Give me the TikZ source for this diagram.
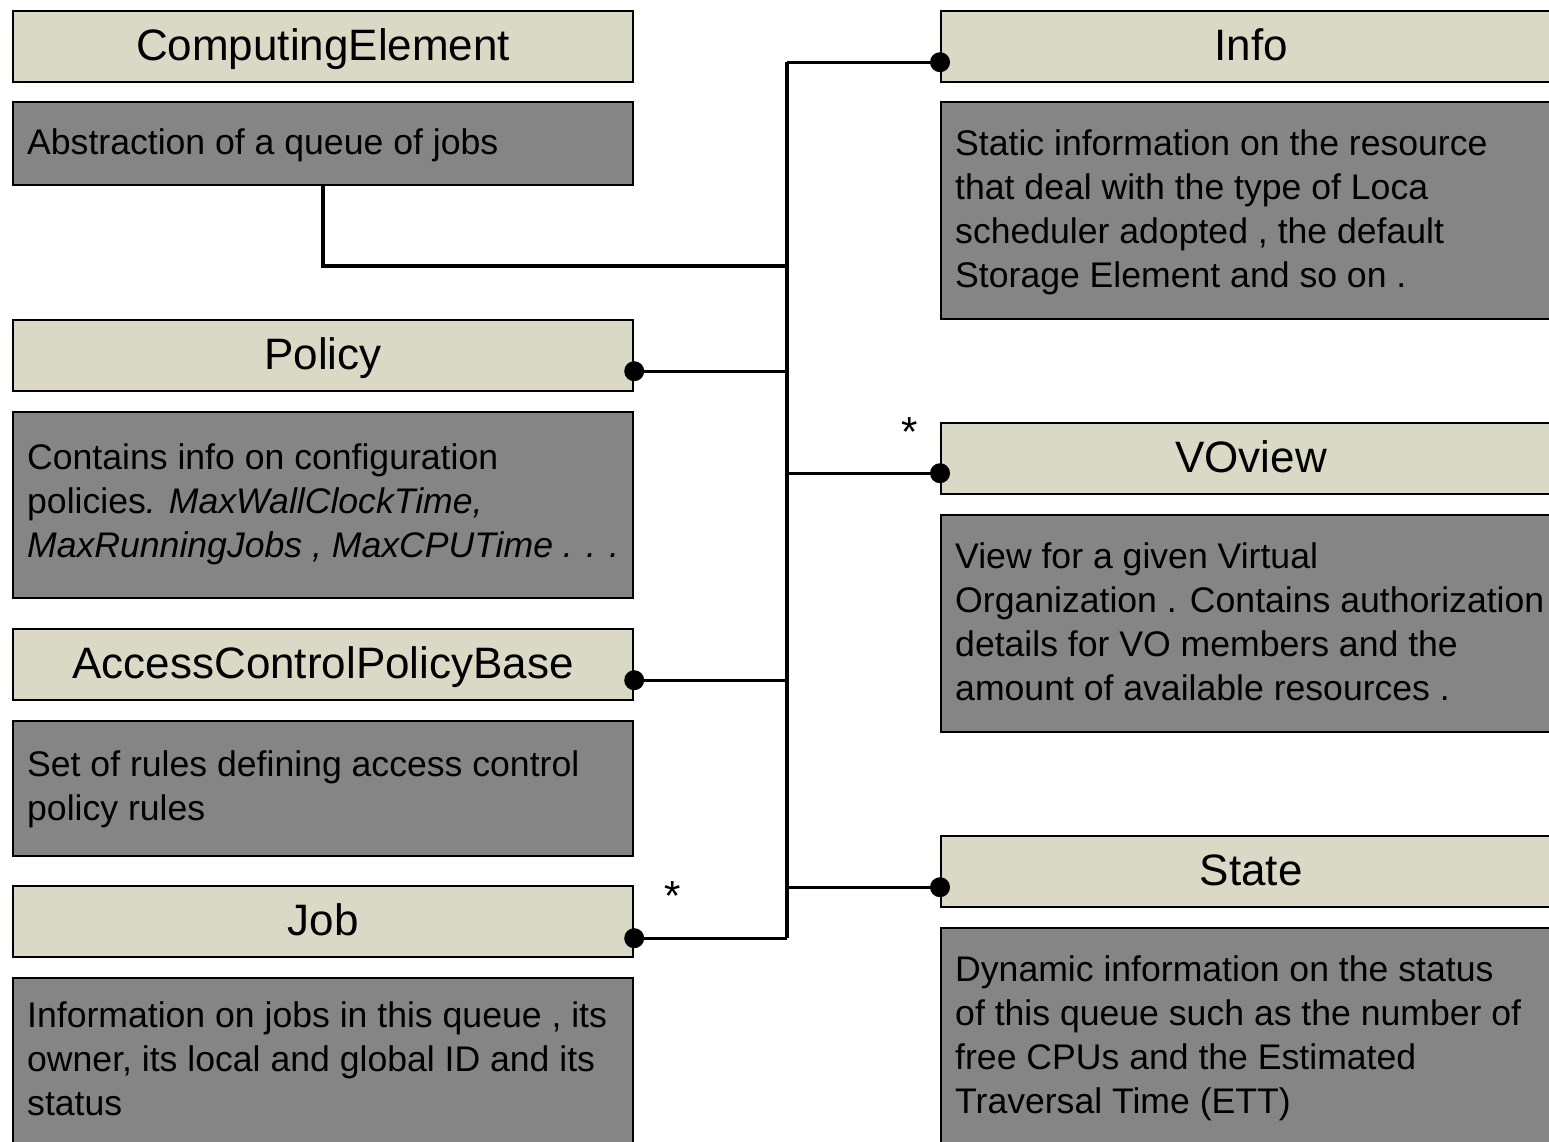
\documentclass[tikz,border=0pt]{standalone}
\usepackage{fontspec}
\setmainfont{Liberation Sans}
\definecolor{hdrfill}{HTML}{DAD9C6}
\definecolor{bodyfill}{HTML}{858585}
\begin{document}
\begin{tikzpicture}[x=1pt,y=-1pt,
  hdr/.style={draw=black, line width=2.2pt, fill=hdrfill, minimum width=620pt,
    minimum height=71pt, inner sep=0pt, anchor=north west,
    font=\fontsize{44}{50}\selectfont, text height=31pt, text depth=3pt},
  bodybox/.style={draw=black, line width=2.2pt, fill=bodyfill, minimum width=620pt,
    inner sep=0pt, anchor=north west},
  btxt/.style={anchor=north west, inner sep=0pt, align=left,
    font=\fontsize{35.6}{44}\selectfont},
  conn/.style={draw=black, line width=3.4pt},
  star/.style={anchor=base, inner sep=0pt, font=\fontsize{42}{46}\selectfont}]
\useasboundingbox (0,0) rectangle (1549,1141);
\fill[white] (0,0) rectangle (1549,1141);
\clip (0,0) rectangle (1549,1141);

% left column
\node[hdr] (ce) at (12,10) {ComputingElement};
\node[bodybox, minimum height=83pt] (ceb) at (12,101) {};
\node[btxt] (cet) at (27,119) {\rule{0pt}{35pt}Abstraction of a queue of jobs};

\node[hdr] (pol) at (12,319) {Policy};
\node[bodybox, minimum height=186pt] (polb) at (12,411) {};
\node[btxt] (polt) at (27,434) {\rule{0pt}{35pt}Contains info on configuration\\
policies\textit{. MaxWallClockTime,}\\
\textit{MaxRunningJobs , MaxCPUTime . . .}};

\node[hdr] (acp) at (12,628) {AccessControlPolicyBase};
\node[bodybox, minimum height=135pt] (acpb) at (12,720) {};
\node[btxt] (acpt) at (27,741) {\rule{0pt}{35pt}Set of rules defining access control\\policy rules};

\node[hdr] (job) at (12,885) {Job};
\node[bodybox, minimum height=200pt] (jobb) at (12,977) {};
\node[btxt] (jobt) at (27,992) {\rule{0pt}{35pt}Information on jobs in this queue , its\\
owner, its local and global ID and its\\status};

% right column
\node[hdr] (info) at (940,10) {Info};
\node[bodybox, minimum height=217pt] (infob) at (940,101) {};
\node[btxt] (infot) at (955,120) {\rule{0pt}{35pt}Static information on the resource\\
that deal with the type of Loca\\
scheduler adopted , the default\\
Storage Element and so on .};

\node[hdr] (vo) at (940,422) {VOview};
\node[bodybox, minimum height=217pt] (vob) at (940,514) {};
\node[btxt] (vot) at (955,533) {\rule{0pt}{35pt}View for a given Virtual\\
Organization . Contains authorization\\
details for VO members and the\\
amount of available resources .};

\node[hdr] (st) at (940,835) {State};
\node[bodybox, minimum height=230pt] (stb) at (940,927) {};
\node[btxt] (stt) at (955,946) {\rule{0pt}{35pt}Dynamic information on the status\\
of this queue such as the number of\\
free CPUs and the Estimated\\
Traversal Time (ETT)};

% connection points
\coordinate (infoP) at ([yshift=21pt]info.south west);
\coordinate (voP) at ([yshift=22pt]vo.south west);
\coordinate (stP) at ([yshift=21pt]st.south west);
\coordinate (polP) at ([yshift=21pt]pol.south east);
\coordinate (acpP) at ([yshift=21pt]acp.south east);
\coordinate (jobP) at ([yshift=20pt]job.south east);
\coordinate (ttop) at (787,60);
\coordinate (tbot) at (787,937);
\coordinate (ceJ) at (787,266);

% connectors
\draw[conn] (ttop |- infoP) -- (tbot |- jobP);
\draw[conn] (ttop |- infoP) -- (infoP);
\draw[conn] (ceb.south) |- (ceJ);
\draw[conn] (polP) -- (polP -| ttop);
\draw[conn] (acpP) -- (acpP -| ttop);
\draw[conn] (jobP) -- (jobP -| ttop);
\draw[conn] (voP -| ttop) -- (voP);
\draw[conn] (stP -| ttop) -- (stP);

\foreach \p in {infoP,voP,stP,polP,acpP,jobP} \fill[black] (\p) circle (10pt);

\node[star] (s1) at (910,446) {*};
\node[star] (s2) at (673,910) {*};
\end{tikzpicture}
\end{document}
